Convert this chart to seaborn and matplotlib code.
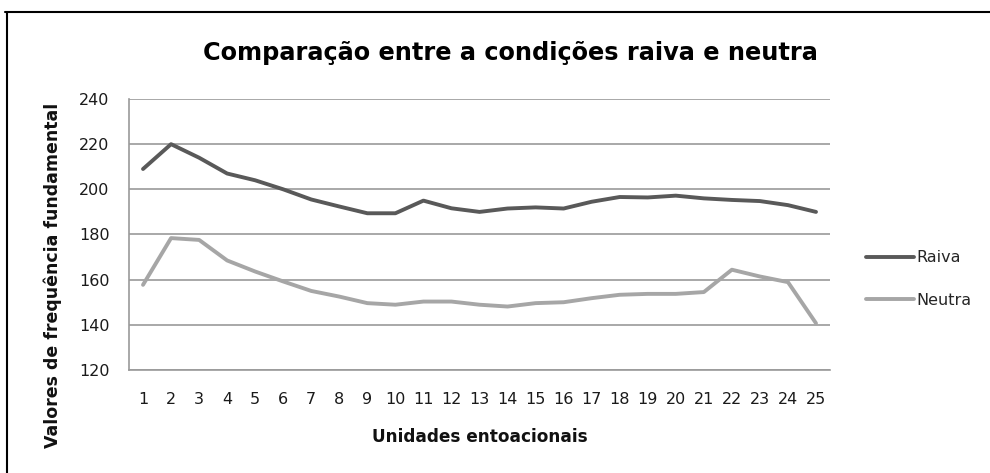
import numpy as np
import pandas as pd
import seaborn as sns
import matplotlib.pyplot as plt
from matplotlib.lines import Line2D

# values
unidades = list(range(1, 26))
raiva = [209, 220, 214, 207, 204, 200, 195.5, 192.4, 189.4, 189.4, 195, 191.6, 190,
         191.5, 192, 191.5, 194.5, 196.6, 196.4, 197.2, 196, 195.3, 194.8, 193, 190]
neutra = [157.7, 178.4, 177.6, 168.5, 163.6, 159.2, 155, 152.5, 149.6, 148.9, 150.3, 150.3,
          148.9, 148.1, 149.6, 150, 151.8, 153.3, 153.7, 153.7, 154.5, 164.4, 161.4, 158.9, 140.7]
series = ['Raiva', 'Neutra']
cores = ['#595959', '#a6a6a6']

df = pd.DataFrame({
    'x': unidades * 2,
    'y': raiva + neutra,
    'serie': ['Raiva'] * 25 + ['Neutra'] * 25,
})

sns.set_style('white')
plt.rcParams['font.family'] = ['DejaVu Sans']

fig = plt.figure(figsize=(9.9, 4.73), dpi=100)
ax = fig.add_axes([0.1303, 0.2178, 0.7081, 0.5729])

sns.lineplot(data=df, x='x', y='y', hue='serie', hue_order=series,
             palette=cores, linewidth=2.8, ax=ax, legend=False)

ax.set_xlim(0.5, 25.5)
ax.set_ylim(120, 240)
ax.set_yticks(range(120, 241, 20))
ax.set_xticks(unidades)
ax.tick_params(axis='both', length=0, labelsize=11.5, colors='#1a1a1a')
ax.tick_params(axis='x', pad=16)
ax.tick_params(axis='y', pad=14)
ax.yaxis.grid(True, color='#9a9a9a', linewidth=1.2)
for s in ['top', 'right']:
    ax.spines[s].set_visible(False)
for s in ['left', 'bottom']:
    ax.spines[s].set_color('#9a9a9a')
    ax.spines[s].set_linewidth(1.2)
ax.set_xlabel('')
ax.set_ylabel('')

fig.text(0.5152, 0.888, 'Comparação entre a condições raiva e neutra',
         ha='center', va='center', fontsize=17.3, fontweight='bold', color='black')
fig.text(0.4848, 0.076, 'Unidades entoacionais', ha='center', va='center',
         fontsize=12.2, fontweight='bold', color='#111111')
fig.text(0.0535, 0.4186, 'Valores de frequência fundamental', ha='center', va='center',
         rotation=90, fontsize=12.5, fontweight='bold', color='#111111')

handles = [Line2D([0], [0], color=c, linewidth=2.8) for c in cores]
fig.legend(handles, series, loc='center left', bbox_to_anchor=(0.86, 0.41),
           frameon=False, fontsize=11.5, handlelength=3.0, handletextpad=0.15,
           labelspacing=1.75)

# outer frame (top and left edges visible)
fig.add_artist(Line2D([0.005, 1.0], [0.975, 0.975], color='black', linewidth=1.5,
                      transform=fig.transFigure))
fig.add_artist(Line2D([0.007, 0.007], [0.0, 0.975], color='black', linewidth=1.5,
                      transform=fig.transFigure))

fig.savefig('out.png', dpi=100)
